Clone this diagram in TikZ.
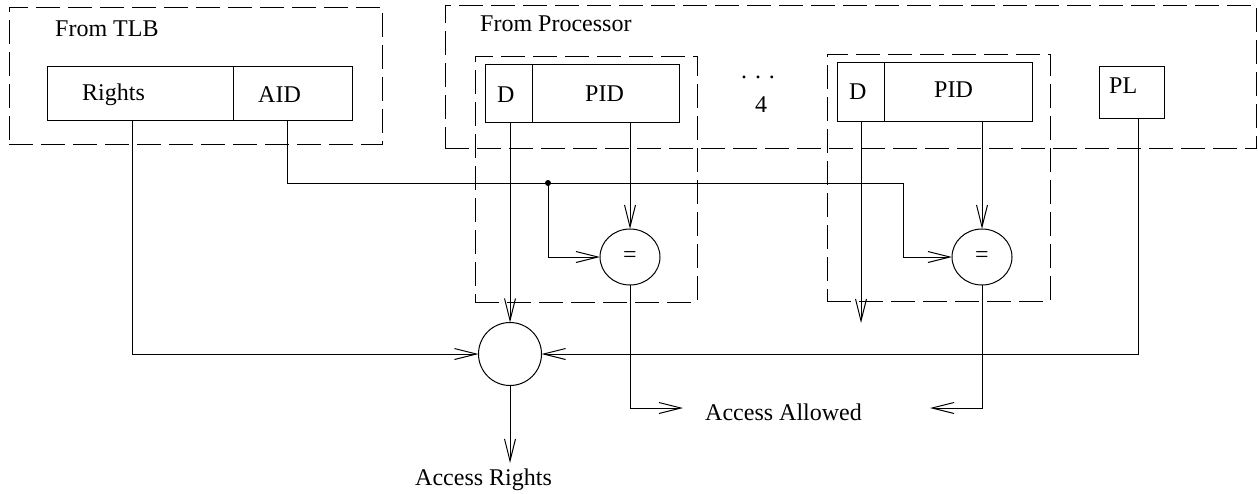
\documentclass[tikz,border=0pt]{standalone}
\usepackage{fontspec}
\setmainfont{Liberation Serif}
\usetikzlibrary{arrows.meta,shapes.geometric}
\tikzset{
  wire/.style={line width=1pt, line join=miter},
  arr/.style={wire, -{Straight Barb[length=22pt,width=11pt,line width=1pt]}},
  frame/.style={draw, line width=1pt, dash pattern=on 24pt off 8pt, inner sep=0pt, outer sep=0pt, anchor=north west},
  cell/.style={draw, line width=1pt, inner sep=0pt, outer sep=0pt, anchor=north west},
  lbl/.style={font=\fontsize{24}{28}\selectfont, inner sep=0pt, anchor=base west},
  op/.style={draw, line width=1pt, ellipse, inner sep=0pt, outer sep=0pt, font=\fontsize{24}{28}\selectfont},
  dotnode/.style={circle, fill, inner sep=0pt, minimum size=6pt}
}
\begin{document}
\begin{tikzpicture}[x=1pt,y=-1pt]
\useasboundingbox (0,0) rectangle (1258,493);

% group frames
\node[frame, minimum width=373pt, minimum height=137pt] (tlbframe) at (9,7) {};
\node[frame, minimum width=811.5pt, minimum height=143pt] (procframe) at (445,5) {};
\node[frame, minimum width=222pt, minimum height=246pt] (slot1) at (475,56) {};
\node[frame, minimum width=223pt, minimum height=247pt] (slot2) at (827,54) {};

\node[lbl] (tlbtitle) at (55,36) {From TLB};
\node[lbl] (proctitle) at (480,31) {From Processor};

% TLB entry
\node[cell, minimum width=186pt, minimum height=54pt] (rights) at (47,66) {};
\node[cell, minimum width=119pt, minimum height=54pt] (aid) at (233,66) {};
\node[lbl] (rightstxt) at (82,100) {Rights};
\node[lbl] (aidtxt) at (258,102) {AID};

% protection registers
\node[cell, minimum width=47pt, minimum height=58pt] (d1) at (485,64) {};
\node[cell, minimum width=147pt, minimum height=58pt] (pid1) at (532,64) {};
\node[lbl] (d1txt) at (497,102) {D};
\node[lbl] (pid1txt) at (585,101) {PID};

\node[cell, minimum width=47pt, minimum height=59pt] (d2) at (837,62) {};
\node[cell, minimum width=148pt, minimum height=59pt] (pid2) at (884,62) {};
\node[lbl] (d2txt) at (849,99) {D};
\node[lbl] (pid2txt) at (934,97) {PID};

\node[lbl, anchor=base] (dots) at (758,78) {.\,\,.\,\,.};
\node[lbl, anchor=base] (four) at (761,112) {4};

\node[cell, minimum width=65pt, minimum height=52pt] (pl) at (1099,66) {};
\node[lbl] (pltxt) at (1109,93) {PL};

% comparators and combiner
\node[op, minimum width=60pt, minimum height=56pt] (eq1) at (630,257) {=};
\node[op, minimum width=60pt, minimum height=56pt] (eq2) at (982,257) {=};
\node[op, minimum width=63pt, minimum height=63pt] (comb) at (510,354) {};

\node[lbl] (allowed) at (705,420) {Access Allowed};
\node[lbl] (rightsout) at (415,485) {Access Rights};

% free ends
\coordinate (bus) at (548,183);
\coordinate (d2end) at (861,323);
\coordinate (al1) at (683,408);
\coordinate (al2) at (930,408);
\coordinate (arend) at (510,463);
\node[dotnode] (busdot) at (bus) {};

% AID bus to both comparators
\draw[arr] (aid.south west) ++(54,0) |- (903,183) |- (eq2.west);
\draw[arr] (busdot.center) |- (eq1.west);

% PID fields into comparators
\draw[arr] (pid1.south -| eq1.north) -- (eq1.north);
\draw[arr] (pid2.south -| eq2.north) -- (eq2.north);

% D fields
\draw[arr] (d1.south -| comb.north) -- (comb.north);
\draw[arr] (d2.south -| d2end) -- (d2end);

% Rights and PL into combiner
\draw[arr] (rights.south west) ++(85,0) |- (comb.west);
\draw[arr] (pl.south west) ++(39,0) |- (comb.east);

% outputs
\draw[arr] (comb.south) -- (arend);
\draw[arr] (eq1.south) |- (al1);
\draw[arr] (eq2.south) |- (al2);
\end{tikzpicture}
\end{document}
